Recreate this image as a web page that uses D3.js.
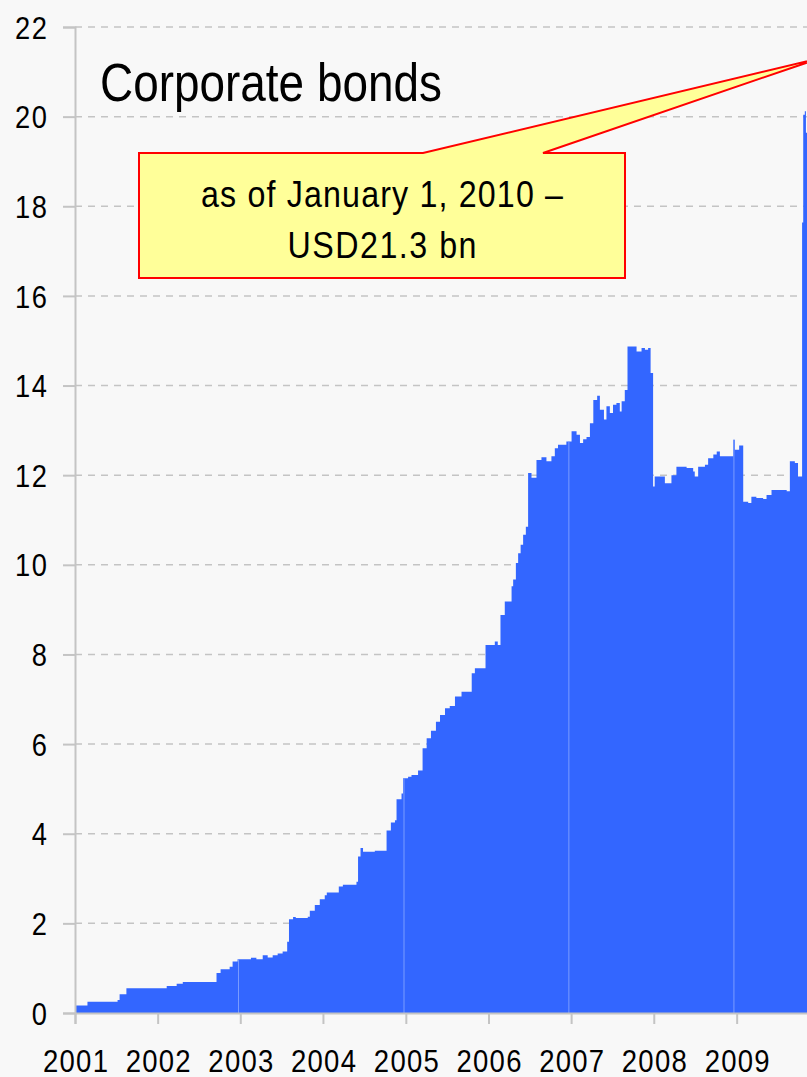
<!DOCTYPE html>
<html>
<head>
<meta charset="utf-8">
<script src="https://cdn.jsdelivr.net/npm/d3@7/dist/d3.min.js"></script>
<style>
  html, body { margin: 0; padding: 0; background: #f8f8f8; }
  svg { display: block; }
  text { font-family: "Liberation Sans", Arial, sans-serif; fill: #000; }
</style>
</head>
<body>
<svg id="chart" width="807" height="1077"></svg>
<script>
// ---- data ----
const dates = [
  "2001-01-01","2001-02-25","2001-07-08","2001-07-17","2001-08-16","2002-02-10","2002-03-26","2002-04-22",
  "2002-09-18","2002-10-06","2002-11-15","2002-11-28","2002-12-20","2003-02-17","2003-03-13","2003-04-10",
  "2003-05-02","2003-05-24","2003-06-15","2003-07-07","2003-07-27","2003-08-04","2003-08-22","2003-09-03",
  "2003-10-26","2003-11-04","2003-11-26","2003-12-18","2004-01-09","2004-01-18","2004-03-11","2004-03-29",
  "2004-05-28","2004-06-04","2004-06-15","2004-06-26","2004-08-17","2004-10-08","2004-10-27","2004-11-14",
  "2004-11-21","2004-12-13","2004-12-20","2005-01-11","2005-01-26","2005-02-24","2005-03-16","2005-04-03",
  "2005-04-22","2005-05-14","2005-06-01","2005-06-23","2005-07-14","2005-08-06","2005-09-04","2005-10-19",
  "2005-11-02","2005-12-19","2006-01-29","2006-02-11","2006-02-23","2006-03-14","2006-04-13","2006-04-20",
  "2006-05-02","2006-05-12","2006-05-23","2006-06-03","2006-06-15","2006-06-25","2006-07-10","2006-08-01",
  "2006-08-23","2006-09-14","2006-10-06","2006-10-21","2006-11-04","2006-12-11","2007-01-03","2007-01-25",
  "2007-02-09","2007-02-23","2007-03-10","2007-03-25","2007-04-09","2007-04-26","2007-05-08","2007-05-26",
  "2007-06-06","2007-06-21","2007-07-05","2007-07-20","2007-08-04","2007-08-12","2007-08-26","2007-09-07",
  "2007-10-17","2007-11-08","2007-11-23","2007-12-07","2007-12-18","2007-12-29","2008-01-05","2008-02-19",
  "2008-03-19","2008-04-10","2008-05-25","2008-06-23","2008-06-30","2008-07-15","2008-08-14","2008-08-28",
  "2008-09-20","2008-10-05","2008-10-19","2008-12-17","2008-12-24","2009-01-12","2009-01-30","2009-02-21",
  "2009-03-07","2009-03-29","2009-04-28","2009-05-13","2009-06-04","2009-08-10","2009-08-24","2009-09-15",
  "2009-09-29","2009-10-17","2009-10-22","2009-10-29","2009-11-03","2009-11-12"
];
const values = [
  0.17,0.25,0.29,0.42,0.55,0.60,0.65,0.69,
  0.89,0.975,1.03,1.15,1.20,1.23,1.20,1.29,
  1.24,1.29,1.33,1.37,1.59,2.09,2.14,2.12,
  2.15,2.28,2.41,2.54,2.63,2.69,2.82,2.86,
  2.93,3.49,3.68,3.60,3.62,4.07,4.25,4.30,
  4.77,4.90,5.24,5.27,5.31,5.41,5.91,6.13,
  6.30,6.50,6.65,6.80,6.85,7.06,7.17,7.58,
  7.69,8.21,8.29,8.21,8.88,9.18,9.52,9.67,
  10.04,10.26,10.45,10.67,10.85,12.05,11.94,12.34,
  12.40,12.31,12.42,12.60,12.68,12.75,12.98,12.90,
  12.72,12.80,12.85,13.16,13.68,13.77,13.46,13.24,
  13.54,13.39,13.57,13.61,13.42,13.65,13.90,14.87,
  14.76,14.84,14.80,14.84,14.28,11.75,11.97,11.82,
  12.00,12.19,12.16,12.08,11.97,12.19,12.23,12.38,
  12.46,12.53,12.42,12.79,12.57,12.66,11.41,11.38,
  11.52,11.49,11.47,11.56,11.67,11.64,12.31,12.27,
  11.97,17.64,20.04,20.12,19.64,19.64
];
const yTicks = [0, 2, 4, 6, 8, 10, 12, 14, 16, 18, 20, 22];
const yearLabels = ["2001","2002","2003","2004","2005","2006","2007","2008","2009"];
const segmentBreaks = ["2002-12-24","2004-12-24","2006-12-22","2008-12-20"];
const titleText = "Corporate bonds";
const calloutLines = ["as of January 1, 2010 \u2013", "USD21.3 bn"];
const calloutDate = "2010-01-01";
const calloutValue = 21.3;

// ---- chart ----
(function () {
const W = 807, H = 1077;
const svg = d3.select("#chart");
const parse = d3.utcParse("%Y-%m-%d");
const data = dates.map((d, i) => ({ date: parse(d), v: values[i] }));

const mLeft = 75, mBottom = 1013, mTop = 27;
const x = d3.scaleUtc()
  .domain([parse("2001-01-01"), parse("2010-01-01")])
  .range([mLeft, mLeft + 9 * 82.7]);
const y = d3.scaleLinear().domain([0, 22]).range([mBottom, mTop]);

// condensed-looking text: horizontally squeezed glyphs, spacing fitted to a width
function condense(sel, sx, width) {
  sel.attr("transform", function () {
    const t = d3.select(this).attr("transform");
    return (t ? t + " " : "") + `scale(${sx},1)`;
  });
  if (width != null) {
    sel.attr("textLength", function () {
      return (typeof width === "function" ? width.call(this) : width) / sx;
    }).attr("lengthAdjust", "spacing");
  }
}

svg.append("rect").attr("width", W).attr("height", H).attr("fill", "#f8f8f8");

svg.append("defs").append("clipPath").attr("id", "plotclip")
  .append("rect").attr("x", mLeft).attr("y", 0).attr("width", W - mLeft).attr("height", mBottom);

// gridlines
svg.append("g").selectAll("line").data(yTicks.filter(t => t > 0)).join("line")
  .attr("x1", mLeft).attr("x2", W)
  .attr("y1", d => y(d)).attr("y2", d => y(d))
  .attr("stroke", "#c4c4c4").attr("stroke-width", 1.5)
  .attr("stroke-dasharray", "7,6");

// area
const area = d3.area()
  .curve(d3.curveStepAfter)
  .x(d => x(d.date))
  .y0(y(0))
  .y1(d => y(d.v));

svg.append("path").datum(data)
  .attr("clip-path", "url(#plotclip)")
  .attr("d", area)
  .attr("fill", "#3366ff");

// thin lighter lines between data segments
svg.append("g").selectAll("line").data(segmentBreaks).join("line")
  .attr("x1", d => x(parse(d))).attr("x2", d => x(parse(d)))
  .attr("y1", d => {
    const i = d3.bisector(p => p.date).right(data, parse(d)) - 1;
    return y(data[Math.max(0, i)].v);
  })
  .attr("y2", mBottom)
  .attr("stroke", "#7b9cff").attr("stroke-width", 1);

// y axis
const yAxis = d3.axisLeft(y).tickValues(yTicks).tickSize(12).tickPadding(0).tickFormat(d3.format("d"));
const gy = svg.append("g").attr("transform", `translate(${mLeft},0)`).call(yAxis);
gy.select(".domain").attr("stroke", "#c4c4c4").attr("stroke-width", 2);
gy.selectAll(".tick line").attr("stroke", "#c4c4c4").attr("stroke-width", 2);
gy.selectAll(".tick text")
  .attr("font-family", "\"Liberation Sans\", Arial, sans-serif")
  .attr("font-size", 31).attr("fill", "#000").attr("dy", "0.36em")
  .attr("x", null)
  .attr("transform", "translate(-28,0)")
  .call(condense, 0.88, function () { return this.textContent.length * 16; });

// x axis
const xAxis = d3.axisBottom(x)
  .tickValues(yearLabels.map(s => parse(s + "-01-01")))
  .tickSize(11).tickPadding(0)
  .tickFormat(d3.utcFormat("%Y"));
const gx = svg.append("g").attr("transform", `translate(0,${mBottom})`).call(xAxis);
gx.select(".domain").attr("stroke", "#c4c4c4").attr("stroke-width", 2);
gx.selectAll(".tick line").attr("stroke", "#c4c4c4").attr("stroke-width", 2);
gx.selectAll(".tick text")
  .attr("font-family", "\"Liberation Sans\", Arial, sans-serif")
  .attr("font-size", 32).attr("fill", "#000")
  .attr("y", 59).attr("dy", null)
  .call(condense, 0.86, 65);

// title
svg.append("text")
  .attr("transform", "translate(100,101)")
  .attr("font-size", 54).text(titleText)
  .call(condense, 0.85, 342);

// callout
const tipX = x(parse(calloutDate)), tipY = y(calloutValue);
const bx0 = 139, bx1 = 625, by0 = 153, by1 = 278, p0 = 423, p1 = 543;
svg.append("path")
  .attr("d", `M${bx0},${by0}L${p0},${by0}L${tipX},${tipY}L${p1},${by0}L${bx1},${by0}L${bx1},${by1}L${bx0},${by1}Z`)
  .attr("fill", "#ffff99").attr("stroke", "#ff0000").attr("stroke-width", 2)
  .attr("stroke-linejoin", "miter");
const calloutWidths = [362, 189];
svg.append("g").selectAll("text").data(calloutLines).join("text")
  .attr("transform", (d, i) => `translate(${(bx0 + bx1) / 2},${207 + i * 51})`)
  .attr("text-anchor", "middle")
  .attr("font-size", 37)
  .text(d => d)
  .each(function (d, i) { d3.select(this).call(condense, 0.87, calloutWidths[i]); });
})();
</script>
</body>
</html>
